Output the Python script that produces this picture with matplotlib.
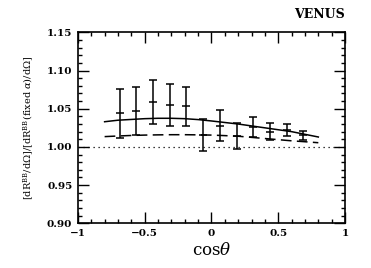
import numpy as np
import matplotlib
matplotlib.use('Agg')
import matplotlib.pyplot as plt
from matplotlib.ticker import MultipleLocator

plt.rcParams['font.family'] = 'DejaVu Serif'
plt.rcParams['mathtext.fontset'] = 'dejavuserif'

# data points with error bars
cos_pts = [-0.6875, -0.5625, -0.4375, -0.3125, -0.1875, -0.0625,
           0.0625, 0.1875, 0.3125, 0.4375, 0.5625, 0.6875]
ratio = [1.044, 1.047, 1.059, 1.055, 1.053, 1.016,
         1.028, 1.014, 1.026, 1.020, 1.022, 1.015]
err = [0.032, 0.031, 0.029, 0.027, 0.026, 0.021,
       0.020, 0.017, 0.013, 0.011, 0.008, 0.006]

# theory curves
cos_curve = [-0.8, -0.7, -0.6, -0.5, -0.4, -0.3, -0.2, -0.1, 0.0,
             0.1, 0.2, 0.3, 0.4, 0.5, 0.6, 0.7, 0.8]
solid = [1.033, 1.035, 1.036, 1.037, 1.0375, 1.0375, 1.037, 1.0358, 1.034,
         1.032, 1.030, 1.0275, 1.025, 1.0225, 1.020, 1.0165, 1.013]
dashed = [1.0135, 1.0143, 1.0150, 1.0155, 1.0158, 1.0160, 1.0160, 1.0158, 1.0155,
          1.0148, 1.014, 1.0125, 1.011, 1.0095, 1.008, 1.0068, 1.0055]

fig = plt.figure(figsize=(3.71, 2.68), dpi=100)
ax = fig.add_axes([0.210, 0.167, 0.720, 0.712])

ax.plot(cos_curve, solid, color='black', lw=1.1)
ax.plot(cos_curve, dashed, color='black', lw=1.1, dashes=(7, 3.5))
ax.axhline(1.0, color='black', lw=0.9, ls=(0, (1, 3)))
ax.errorbar(cos_pts, ratio, yerr=err, fmt='_', color='black', ms=6, mew=1.1,
            elinewidth=1.1, capsize=3, capthick=1.1)

ax.set_xlim(-1, 1)
ax.set_ylim(0.90, 1.15)
ax.xaxis.set_minor_locator(MultipleLocator(0.1))
ax.yaxis.set_minor_locator(MultipleLocator(0.01))
ax.set_xticks([-1, -0.5, 0, 0.5, 1])
ax.set_xticklabels(['\u22121', '\u22120.5', '0', '0.5', '1'])
ax.set_yticks([0.90, 0.95, 1.00, 1.05, 1.10, 1.15])
ax.set_yticklabels(['0.90', '0.95', '1.00', '1.05', '1.10', '1.15'])
ax.tick_params(which='both', direction='in', top=True, right=True, width=1.0,
               labelsize=7.5, pad=4)
ax.tick_params(which='major', length=8)
ax.tick_params(which='minor', length=3)
for lab in ax.get_xticklabels() + ax.get_yticklabels():
    lab.set_fontweight('bold')
for s in ax.spines.values():
    s.set_linewidth(1.2)

ax.set_xlabel(r'cos$\theta$', fontsize=12, labelpad=3)
ax.set_ylabel(r'[dR$^{\rm BB}$/d$\Omega$]/[dR$^{\rm BB}$(fixed $\alpha$)/d$\Omega$]',
              fontsize=7, labelpad=8)
fig.text(0.930, 0.945, 'VENUS', ha='right', va='center', fontsize=9, fontweight='bold')

fig.savefig('out.png', dpi=100)
